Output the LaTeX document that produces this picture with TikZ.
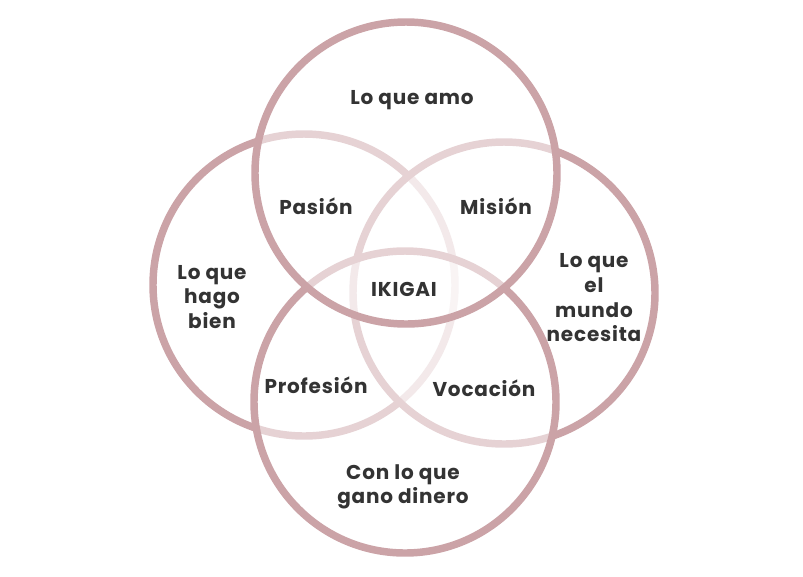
\documentclass[tikz,border=0pt]{standalone}
\usepackage{fontspec}
\setmainfont{Poppins}[LetterSpace=4]
\usepackage{xcolor}
\usepackage{tikz}
\definecolor{rose}{HTML}{CBA3A7}
\definecolor{ink}{HTML}{333333}

\begin{document}
\begin{tikzpicture}[x=0.75pt,y=-0.75pt,
    ring/.style={draw=rose,line width=5.6pt,fill=white,fill opacity=0.52,draw opacity=1},
    lbl/.style={text=ink,font=\fontsize{15}{18.5}\selectfont\bfseries,align=center}]
        \useasboundingbox (0,0) rectangle (803,576);
        \draw[ring] (304,285) circle[radius=151];
        \draw[ring] (504,293) circle[radius=151];
        \draw[ring] (405,402) circle[radius=151];
        \draw[ring] (406,173) circle[radius=151];
        \node[lbl] (amo) at (412,100) {Lo que amo};
        \node[lbl] (pasion) at (316,206) {Pasión};
        \node[lbl] (mision) at (496,206) {Misión};
        \node[lbl] (bien) at (212,297) {Lo que\\hago\\bien};
        \node[lbl] (ikigai) at (404,289) {IKIGAI};
        \node[lbl] (mundo) at (594,298) {Lo que\\el\\mundo\\necesita};
        \node[lbl] (profesion) at (316,385) {Profesión};
        \node[lbl] (vocacion) at (484,388) {Vocación};
        \node[lbl] (dinero) at (403,487) {Con lo que\\gano dinero};
    \end{tikzpicture}
\end{document}
